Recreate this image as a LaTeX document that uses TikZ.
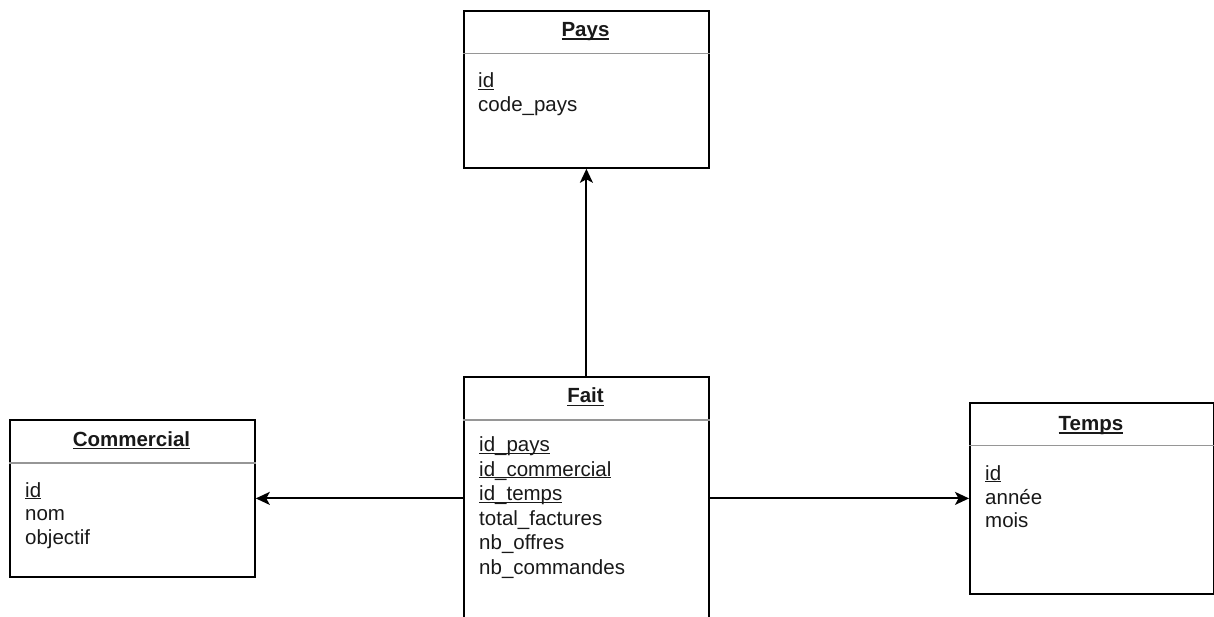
\documentclass[tikz,border=0pt]{standalone}
\usepackage{fontspec}
\setmainfont{Liberation Sans}
\usetikzlibrary{arrows.meta}
\definecolor{sepgray}{RGB}{150,150,150}
\definecolor{txt}{RGB}{25,25,25}
\newcommand\ulin[1]{\setbox0=\hbox{#1}\rlap{\rule[-2.4pt]{\wd0}{1.3pt}}\box0}
\newcommand\ulbold[1]{\setbox0=\hbox{#1}\rlap{\rule[-3.4pt]{\wd0}{1.6pt}}\box0}
\begin{document}
\begin{tikzpicture}[x=1pt,y=-1pt,
  entity/.style={draw=black, line width=1.8pt, fill=white, anchor=north west, inner sep=0pt},
  sepline/.style={draw=sepgray, line width=1.2pt},
  title/.style={font=\fontsize{20.5}{24}\selectfont\bfseries, anchor=base, inner sep=0pt, text=txt},
  attr/.style={font=\fontsize{20.5}{24}\selectfont, anchor=base west, inner sep=0pt, text=txt},
  conn/.style={draw=black, line width=2pt, -{Stealth[length=14pt,width=13pt,inset=3.5pt]}}]
\useasboundingbox (0,0) rectangle (1214,617);
\clip (0,0) rectangle (1214,617);
\fill[white] (0,0) rectangle (1214,617);

% entities
\node[entity, minimum width=245pt, minimum height=157pt] (pays) at (463,10) {};
\node[entity, minimum width=245pt, minimum height=270pt] (fait) at (463,376) {};
\node[entity, minimum width=245pt, minimum height=157pt] (commercial) at (9,419) {};
\node[entity, minimum width=244pt, minimum height=191pt] (temps) at (969,402) {};

% header separators
\draw[sepline] ([yshift=-43.5pt]pays.north west) -- ([yshift=-43.5pt]pays.north east);
\draw[sepline] ([yshift=-44pt]fait.north west) -- ([yshift=-44pt]fait.north east);
\draw[sepline] ([yshift=-44pt]commercial.north west) -- ([yshift=-44pt]commercial.north east);
\draw[sepline] ([yshift=-43.5pt]temps.north west) -- ([yshift=-43.5pt]temps.north east);

% Pays
\node[title] (paystitle) at (585.5,36.7) {\ulbold{Pays}};
\node[attr] (pays1) at (478,87.5) {\ulin{id}};
\node[attr] (pays2) at (478,111.5) {code\_pays};

% Fait
\node[title] (faittitle) at (585.5,402.7) {\ulbold{Fait}};
\node[attr] (fait1) at (479,451.5) {\ulin{id\_pays}};
\node[attr] (fait2) at (479,476) {\ulin{id\_commercial}};
\node[attr] (fait3) at (479,500.5) {\ulin{id\_temps}};
\node[attr] (fait4) at (479,525) {total\_factures};
\node[attr] (fait5) at (479,549.5) {nb\_offres};
\node[attr] (fait6) at (479,574) {nb\_commandes};

% Commercial
\node[title] (comtitle) at (131.5,446) {\ulbold{Commercial}};
\node[attr] (com1) at (25,497) {\ulin{id}};
\node[attr] (com2) at (25,520.5) {nom};
\node[attr] (com3) at (25,544) {objectif};

% Temps
\node[title] (tempstitle) at (1091,430.5) {\ulbold{Temps}};
\node[attr] (temps1) at (985,480) {\ulin{id}};
\node[attr] (temps2) at (985,504) {année};
\node[attr] (temps3) at (985,527.5) {mois};

% connectors
\draw[conn] (fait.north) -- (pays.south);
\draw[conn] (fait.west |- commercial.east) -- (commercial.east);
\draw[conn] (fait.east |- temps.west) -- (temps.west);
\end{tikzpicture}
\end{document}
